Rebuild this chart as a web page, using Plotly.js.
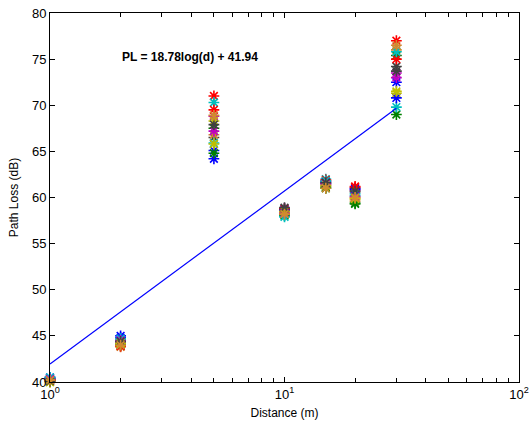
<!DOCTYPE html>
<html>
<head>
<meta charset="utf-8">
<script src="https://cdn.plot.ly/plotly-3.0.1.min.js"></script>
<style>html,body{margin:0;padding:0;background:#fff;}#chart{width:529px;height:430px;}</style>
</head>
<body>
<div id="chart"></div>
<script>
// Distances (m)
var distances = [1, 2, 5, 10, 15, 20, 30];

// Measured path loss (dB), one series per measurement run
var run01 = [40.5, 45.0, 64.2, 58.8, 61.5, 61.0, 72.5];
var run02 = [40.2, 44.2, 67.5, 58.2, 61.0, 59.4, 69.0];
var run03 = [40.3, 43.9, 71.0, 58.5, 61.8, 61.2, 77.0];
var run04 = [40.4, 44.6, 70.3, 58.0, 62.0, 60.2, 69.8];
var run05 = [40.1, 44.3, 68.8, 58.6, 61.3, 60.8, 73.5];
var run06 = [40.0, 44.1, 68.3, 58.3, 61.2, 59.8, 71.3];
var run07 = [40.2, 44.4, 66.5, 58.7, 61.6, 60.6, 74.2];
var run08 = [40.1, 43.8, 66.8, 58.4, 61.4, 59.6, 76.0];
var run09 = [40.4, 44.8, 65.1, 58.6, 61.7, 60.9, 70.8];
var run10 = [40.3, 44.0, 64.8, 58.1, 61.1, 59.3, 75.4];
var run11 = [40.2, 43.9, 69.5, 58.8, 61.9, 61.1, 75.0];
var run12 = [40.5, 44.7, 65.9, 57.9, 61.8, 60.4, 75.8];
var run13 = [40.3, 44.5, 67.2, 58.3, 61.5, 60.1, 73.0];
var run14 = [40.0, 44.2, 65.8, 58.5, 61.3, 59.9, 71.5];
var run15 = [40.1, 44.4, 67.9, 58.9, 61.6, 60.7, 73.7];
var run16 = [40.2, 44.0, 68.9, 58.2, 61.0, 60.0, 76.5];

var runs = [run01, run02, run03, run04, run05, run06, run07, run08,
            run09, run10, run11, run12, run13, run14, run15, run16];

var runColors = ['#0000ff', '#008000', '#ff0000', '#00bfbf', '#bf00bf', '#bfbf00', '#404040', '#d08a30',
                 '#0000ff', '#008000', '#ff0000', '#00bfbf', '#bf00bf', '#bfbf00', '#404040', '#d08a30'];

// Fitted model PL = slope*log10(d) + intercept
var fitSlope = 18.78;
var fitIntercept = 41.94;
var fitD = [1, 30];
var fitPL = fitD.map(function (d) { return fitSlope * Math.log10(d) + fitIntercept; });

var xTickVals = [1, 10, 100];
var xTickText = ['10<sup>0</sup>', '10<sup>1</sup>', '10<sup>2</sup>'];
var xMinorVals = [2, 3, 4, 5, 6, 7, 8, 9, 20, 30, 40, 50, 60, 70, 80, 90];

var traces = runs.map(function (r, i) {
  return {
    x: distances, y: r, type: 'scatter', mode: 'markers', cliponaxis: false,
    marker: {symbol: 'asterisk-open', size: 9, color: runColors[i], line: {color: runColors[i], width: 1.6}},
    showlegend: false, hoverinfo: 'x+y'
  };
});
traces.push({
  x: fitD, y: fitPL, type: 'scatter', mode: 'lines',
  line: {color: '#0000ff', width: 1.2}, showlegend: false
});

var font = {family: 'Liberation Sans, Arial, sans-serif', size: 12, color: '#000'};

var layout = {
  width: 529, height: 430,
  margin: {l: 50, r: 10, t: 13, b: 48},
  paper_bgcolor: '#fff', plot_bgcolor: '#fff',
  font: font,
  showlegend: false,
  xaxis: {
    type: 'log', range: [0, 2],
    tickmode: 'array', tickvals: xTickVals, ticktext: xTickText,
    ticks: 'inside', ticklen: 5, tickcolor: '#000', tickwidth: 1,
    showline: true, linecolor: '#000', linewidth: 1, mirror: 'ticks',
    showgrid: false, zeroline: false,
    tickfont: {family: 'Liberation Sans, Arial, sans-serif', size: 13, color: '#000'},
    minor: {tickmode: 'array', tickvals: xMinorVals, ticks: 'inside', ticklen: 4, tickcolor: '#000', showgrid: false},
    title: {text: 'Distance (m)', font: {family: 'Liberation Sans, Arial, sans-serif', size: 12, color: '#000'}, standoff: 8}
  },
  yaxis: {
    range: [40, 80], dtick: 5, tick0: 40,
    ticks: 'inside', ticklen: 5, tickcolor: '#000',
    showline: true, linecolor: '#000', linewidth: 1, mirror: 'ticks',
    showgrid: false, zeroline: false,
    tickfont: {family: 'Liberation Sans, Arial, sans-serif', size: 13, color: '#000'},
    title: {text: 'Path Loss (dB)', font: {family: 'Liberation Sans, Arial, sans-serif', size: 12, color: '#000'}, standoff: 10}
  },
  annotations: [{
    xref: 'paper', yref: 'paper', x: 0.149, y: 0.88, xanchor: 'left', yanchor: 'middle',
    text: '<b>PL = 18.78log(d) + 41.94</b>', showarrow: false,
    font: {family: 'Liberation Sans, Arial, sans-serif', size: 12, color: '#000'}
  }]
};

Plotly.newPlot('chart', traces, layout, {displayModeBar: false, staticPlot: true});
</script>
</body>
</html>
